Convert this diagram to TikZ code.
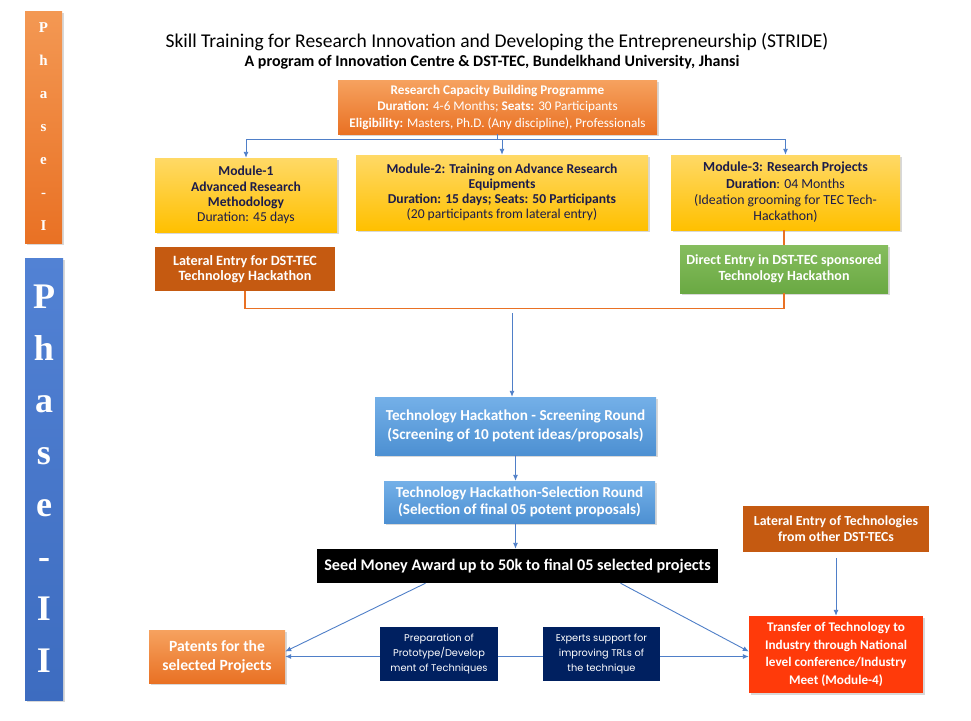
\documentclass[tikz,border=0pt]{standalone}
\usepackage{fontspec}
\setmainfont{Carlito}
\newfontfamily\phasefont{Liberation Serif}
\newfontfamily\notefont{Poppins}
\usetikzlibrary{shapes,arrows.meta,shadows,calc}

\definecolor{progorange}{HTML}{E97124}
\definecolor{paleorange}{HTML}{F6A25F}
\definecolor{rustorange}{HTML}{C55A11}
\definecolor{modgold}{HTML}{FFC000}
\definecolor{palegold}{HTML}{FFD966}
\definecolor{leafgreen}{HTML}{6AA943}
\definecolor{paleleaf}{HTML}{86BD5E}
\definecolor{roundblue}{HTML}{4D90D2}
\definecolor{paleblue}{HTML}{74B0E8}
\definecolor{notenavy}{HTML}{002060}
\definecolor{flame}{HTML}{FF3A0A}
\definecolor{phaseblue}{HTML}{3D6CC0}
\definecolor{palephase}{HTML}{5282D4}
\definecolor{linkblue}{HTML}{4F7FC8}
\definecolor{modtext}{HTML}{1C1C4A}

\begin{document}
\begin{tikzpicture}[x=1pt, y=-1pt,
    box/.style={rectangle, align=center, inner sep=1pt, text=white, font=\fontsize{12}{15}\selectfont},
    shadebox/.style={box, drop shadow={opacity=0.3, shadow xshift=1.5pt, shadow yshift=-2pt}},
    modbox/.style={shadebox, top color=palegold, bottom color=modgold, text=modtext, font=\fontsize{13.6}{15.2}\selectfont},
    notebox/.style={box, fill=notenavy, minimum width=118pt, minimum height=54pt, font=\notefont\fontsize{9.8}{15}\selectfont},
    link/.style={draw=linkblue, line width=0.9pt, -{Latex[length=6pt, width=5pt]}},
    feed/.style={draw=progorange, line width=1.2pt},
  ]
    \useasboundingbox (0,0) rectangle (971,720);
    \fill[white] (0,0) rectangle (971,720);

    % Phase bars
    \node[shadebox, top color=paleorange!80!progorange, bottom color=progorange, minimum width=37pt, minimum height=232pt] (phaseone) at (43.5,127) {};
    \node[text=white, align=center, font=\phasefont\bfseries\fontsize{15}{33}\selectfont] (phaseonetext) at (phaseone) {P\\h\\a\\s\\e\\-\\I};
    \node[shadebox, top color=palephase, bottom color=phaseblue, minimum width=38pt, minimum height=442pt] (phasetwo) at (44,479) {};
    \node[text=white, align=center, font=\phasefont\bfseries\fontsize{36}{52}\selectfont] (phasetwotext) at (phasetwo) {P\\h\\a\\s\\e\\-\\I\\I};

    % Title
    \node[font=\fontsize{19.5}{22}\selectfont] (title) at (497,42) {Skill Training for Research Innovation and Developing the Entrepreneurship (STRIDE)};
    \node[font=\bfseries\fontsize{16}{18}\selectfont] (subtitle) at (492,62) {A program of Innovation Centre \& DST-TEC, Bundelkhand University, Jhansi};

    % Phase I
    \node[shadebox, top color=paleorange, bottom color=progorange, minimum width=319pt, minimum height=54pt, font=\fontsize{13.2}{16.5}\selectfont] (research) at (497.5,107)
        {\textbf{Research Capacity Building Programme}\\ \textbf{Duration:} 4-6 Months; \textbf{Seats:} 30 Participants\\ \textbf{Eligibility:} Masters, Ph.D. (Any discipline), Professionals};
    \node[modbox, minimum width=182pt, minimum height=74pt] (modone) at (246,195)
        {\textbf{Module-1}\\ \textbf{Advanced Research}\\ \textbf{Methodology}\\ Duration: 45 days};
    \node[modbox, minimum width=292pt, minimum height=75pt] (modtwo) at (502,192.5)
        {\textbf{Module-2: Training on Advance Research}\\ \textbf{Equipments}\\ \textbf{Duration: 15 days; Seats: 50 Participants}\\ (20 participants from lateral entry)};
    \node[modbox, minimum width=229pt, minimum height=75pt, font=\fontsize{13.8}{16.3}\selectfont] (modthree) at (785.5,192.5)
        {\textbf{Module-3: Research Projects}\\ \textbf{Duration}: 04 Months\\ (Ideation grooming for TEC Tech-\\ Hackathon)};
    \node[box, fill=rustorange, minimum width=180pt, minimum height=44pt, font=\bfseries\fontsize{14.2}{15.5}\selectfont] (lateral) at (245,269)
        {Lateral Entry for DST-TEC\\ Technology Hackathon};
    \node[shadebox, top color=paleleaf, bottom color=leafgreen, minimum width=208pt, minimum height=48pt, font=\bfseries\fontsize{14}{16}\selectfont] (direct) at (784,269)
        {Direct Entry in DST-TEC sponsored\\ Technology Hackathon};

    % Phase II
    \node[shadebox, top color=paleblue, bottom color=roundblue, minimum width=281pt, minimum height=58pt, font=\bfseries\fontsize{15.2}{19}\selectfont] (screen) at (515.5,426)
        {Technology Hackathon - Screening Round\\ (Screening of 10 potent ideas/proposals)};
    \node[shadebox, top color=paleblue, bottom color=roundblue, minimum width=271pt, minimum height=42pt, font=\bfseries\fontsize{15.1}{17}\selectfont] (select) at (519.5,502)
        {Technology Hackathon-Selection Round\\ (Selection of final 05 potent proposals)};
    \node[box, fill=black, minimum width=401pt, minimum height=34pt, font=\bfseries\fontsize{16.2}{18}\selectfont] (seed) at (517.5,566)
        {Seed Money Award up to 50k to final 05 selected projects};
    \node[box, fill=rustorange, minimum width=186pt, minimum height=46pt, font=\bfseries\fontsize{13.8}{16}\selectfont] (latech) at (836,529)
        {Lateral Entry of Technologies\\ from other DST-TECs};
    \node[shadebox, fill=flame, minimum width=174pt, minimum height=77pt, font=\bfseries\fontsize{13.2}{17.7}\selectfont] (transfer) at (836,654.5)
        {Transfer of Technology to\\ Industry through National\\ level conference/Industry\\ Meet (Module-4)};
    \node[shadebox, top color=paleorange, bottom color=progorange, minimum width=136pt, minimum height=53pt, font=\bfseries\fontsize{15.6}{19}\selectfont] (patents) at (217,656.5)
        {Patents for the\\ selected Projects};
    \node[notebox] (prep) at (439,654) {Preparation of\\ Prototype/Develop\\ ment of Techniques};
    \node[notebox, minimum width=117pt] (experts) at (601.5,654) {Experts support for\\ improving TRLs of\\ the technique};

    % Connectors
    \coordinate (branch) at (497.5,139);
    \draw[draw=linkblue, line width=0.9pt] (research.south) -- (branch);
    \draw[link] (branch) -| (modone.north);
    \draw[link] (branch) -| (modtwo.north);
    \draw[link] (branch) -| (modthree.north);
    \draw[feed] (direct.north |- modthree.south) -- (direct.north);
    \draw[feed] (lateral.south) -- ++(0,17) -| (direct.south);
    \coordinate (merge) at (512,313);
    \draw[link] (merge) -- (merge |- screen.north);
    \draw[link] (screen.south) -- (screen.south |- select.north);
    \draw[link] (select.south -| screen.south) -- (screen.south |- seed.north);
    \draw[link] ([xshift=-92pt]seed.south) -- ([yshift=5pt]patents.east);
    \draw[link] ([xshift=103pt]seed.south) -- ([yshift=3pt]transfer.west);
    \draw[link] ([yshift=-6pt]latech.south) -- (transfer.north);
    \draw[link] (prep.west |- patents.east) -- (patents.east);
    \draw[draw=linkblue, line width=0.9pt] (prep.east |- patents.east) -- (experts.west |- patents.east);
    \draw[link] (experts.east |- patents.east) -- (transfer.west |- patents.east);
\end{tikzpicture}
\end{document}
